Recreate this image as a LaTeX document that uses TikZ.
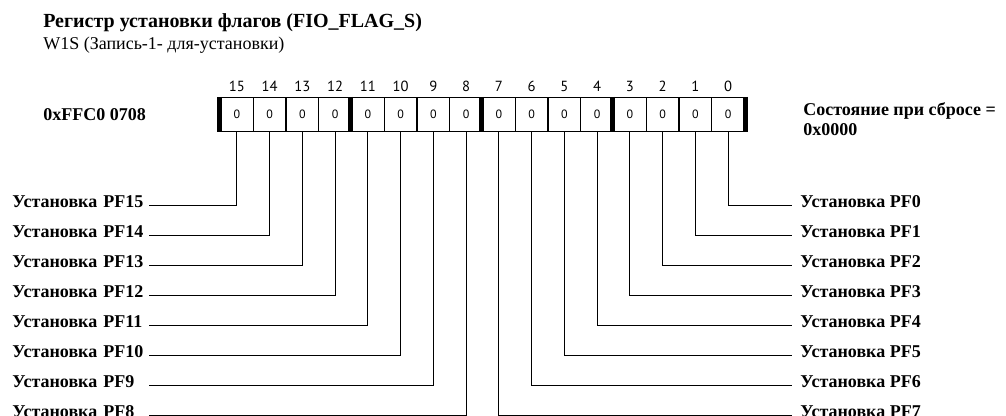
\documentclass[tikz,border=0pt]{standalone}
\usepackage{fontspec}
\setmainfont{Liberation Serif}
\newfontfamily\bitfont{PT Sans}
\usetikzlibrary{positioning, calc}

\begin{document}
\begin{tikzpicture}[x=0.75pt, y=-0.75pt,
  cell/.style={draw, line width=0.9pt, minimum width=24.56pt,
               minimum height=25.5pt, inner sep=0pt,
               font=\bitfont\fontsize{9}{10}\selectfont},
  bitnum/.style={inner sep=0pt, font=\bitfont\fontsize{11}{12}\selectfont},
  lbl/.style={inner sep=0pt, font=\bfseries\fontsize{13.5}{16}\selectfont},
  conn/.style={line width=0.9pt},
  bar/.style={line width=3.75pt}
]
\useasboundingbox (0,0) rectangle (1006,416);

% Title
\node[anchor=base west, inner sep=0pt, font=\bfseries\fontsize{15}{18}\selectfont]
  (title) at (43,28) {Регистр установки флагов (FIO\_FLAG\_S)};
\node[anchor=base west, inner sep=0pt, font=\fontsize{13.5}{16}\selectfont]
  (mode) at (43,50) {W1S (Запись-1- для-установки)};

% Address and reset value
\node[lbl, anchor=west] (addr) at (43,115) {0xFFC0 0708};
\node[lbl, anchor=north west, align=left, font=\bfseries\fontsize{13.5}{15}\selectfont]
  (reset) at (803,102) {Состояние при сбросе =\\0x0000};

% Register cells
\foreach \b in {15,...,0} {
  \pgfmathsetmacro{\cx}{220.5+32.75*(15-\b+0.5)}
  \node[cell] (c\b) at (\cx,114.5) {0};
  \node[bitnum] (n\b) at (\cx,86) {\b};
}
\foreach \b in {15,11,7,3}
  \draw[bar] (c\b.north west) -- (c\b.south west);
\draw[bar] (c0.north east) -- (c0.south east);

% Bit labels, left
\foreach \b in {15,...,8} {
  \pgfmathsetmacro{\ly}{202+30*(15-\b)}
  \node[lbl, anchor=west, text width=102pt, align=left] (l\b) at (12,\ly)
    {Установка PF\b};
  \draw[conn] (c\b.south) |- ([yshift=-2.4pt]l\b.east);
}
% Bit labels, right
\foreach \b in {0,...,7} {
  \pgfmathsetmacro{\ly}{202+30*\b}
  \node[lbl, anchor=west, inner xsep=6pt] (l\b) at (792,\ly)
    {Установка PF\b};
  \draw[conn] (c\b.south) |- ([yshift=-2.4pt]l\b.west);
}
\end{tikzpicture}
\end{document}
